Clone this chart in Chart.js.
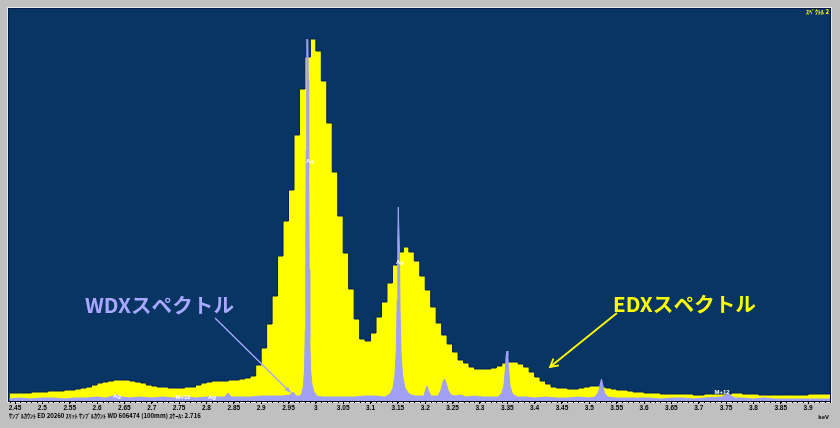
<!DOCTYPE html>
<html><head><meta charset="utf-8">
<script src="https://cdn.jsdelivr.net/npm/chart.js@4.4.1/dist/chart.umd.min.js"></script>
<style>html,body{margin:0;padding:0;background:#c0c0c0;overflow:hidden}canvas{display:block}</style>
</head><body><canvas id="c" width="840" height="428"></canvas>
<script>
// EDX histogram: 10 eV bins starting at 2.44 keV
const edxStartKeV = 2.44;
const edxBinKeV = 0.01;
const edxCounts = [
  8,8,8,8,9,9,9,10,10,10,11,11,12,
  13,14,16,18,19,20,21,21,21,20,19,18,
  16,15,14,14,13,13,13,14,14,16,18,19,20,20,20,21,21,22,23,25,
  36,53,77,105,145,180,211,266,312,344,362,350,320,278,229,
  185,148,112,82,62,60,68,84,99,118,
  136,149,154,149,140,125,111,94,78,66,57,49,41,38,34,32,
  32,32,33,35,38,39,39,37,34,29,24,20,17,14,
  13,13,12,12,13,14,15,15,14,13,12,11,11,10,9,9,8,8,8,
  7,7,7,7,7,7,6,6,7,7,7,7,7,8,8,7,7,7,6,6,6,6,6,6,6,6,6,7,7,7,7
];
// WDX spectrum
const wdxEnergy = [
  2.440,2.460,2.480,2.500,2.520,2.540,2.560,2.580,2.600,2.615,
  2.630,2.638,2.645,2.660,2.680,2.700,2.720,2.740,2.760,2.780,
  2.800,2.820,2.834,2.8394,2.845,2.860,2.880,2.900,2.920,2.940,
  2.952,2.9582,2.9637,
  2.9710,2.9747,2.9774,2.9793,2.9807,2.9816,2.9824,2.9831,2.9838,2.9853,
  2.9862,2.9869,2.9878,2.9889,2.9904,2.9930,2.9966,3.0021,3.0113,
  3.030,3.050,3.070,3.090,3.110,
  3.1264,3.1356,3.1411,3.1447,3.1471,3.1487,3.1498,3.1507,3.1516,3.1528,
  3.1539,3.1557,3.1584,3.1630,3.1703,3.1813,
  3.1977,3.2005,3.2032,3.2060,3.2105,
  3.2233,3.2288,3.2325,3.2352,3.2379,3.2416,3.2471,3.2544,
  3.265,3.275,3.290,3.305,3.320,
  3.3330,3.3403,3.3440,3.3464,3.3480,3.3495,3.3510,3.3528,3.3550,3.3596,3.3678,
  3.385,3.400,3.420,3.440,3.460,3.480,3.500,
  3.5104,3.5168,3.5201,3.5222,3.5246,3.5277,3.5341,
  3.550,3.570,3.590,3.610,3.630,3.650,3.670,3.690,3.710,
  3.7425,3.7498,3.7535,3.7590,3.7663,
  3.780,3.800,3.820,3.840,3.860,3.880,3.900,3.920,3.940
];
const wdxCounts = [
  2,3,2,3,3,2,3,3,4,3,
  5,6,4,3,4,3,4,3,4,3,
  4,4,4,8,4,4,4,5,5,5,
  6,9,5,
  5,8,16,31,71,151,251,341,362,361,
  321,231,131,61,31,16,9,5,4,
  4,4,4,5,5,
  4,7,13,26,51,101,161,194,194,151,
  91,49,26,13,7,5,
  5,11,15,10,5,
  5,11,19,22,18,11,6,5,
  6,4,5,4,4,
  4,8,16,31,46,50,45,29,15,7,4,
  4,3,4,3,3,4,3,
  4,9,17,22,16,8,4,
  3,3,3,3,2,3,3,2,3,
  4,6,8,5,3,
  3,2,3,2,2,2,2,2,2
];
const tickValues = [2.45,2.5,2.55,2.6,2.65,2.7,2.75,2.8,2.85,2.9,2.95,3,3.05,3.1,3.15,3.2,3.25,3.3,3.35,3.4,3.45,3.5,3.55,3.6,3.65,3.7,3.75,3.8,3.85,3.9];
const tickLabels = ['2.45','2.5','2.55','2.6','2.65','2.7','2.75','2.8','2.85','2.9','2.95','3','3.05','3.1','3.15','3.2','3.25','3.3','3.35','3.4','3.45','3.5','3.55','3.6','3.65','3.7','3.75','3.8','3.85','3.9'];
const peakMarkers = [
  {text:'Ag', e:2.9893, v:240},
  {text:'Ag', e:3.1539, v:139},
  {text:'Ag', e:2.6365, v:5},
  {text:'M+12', e:2.7571, v:4},
  {text:'Ag', e:2.8100, v:4},
  {text:'M+12', e:3.7425, v:9}
];
const infoText = 'ｻﾝﾌﾟﾙｶｳﾝﾄ ED 20260 ｽﾘｯﾄ ｻﾝﾌﾟﾙｶｳﾝﾄ WD 606474 (100mm) ｽｹｰﾙ: 2.716';

const edxPoints = edxCounts.map((c,i)=>({x: edxStartKeV + i*edxBinKeV, y: c}));
edxPoints.push({x: edxStartKeV + edxCounts.length*edxBinKeV, y: edxCounts[edxCounts.length-1]});
const wdxPoints = wdxEnergy.map((e,i)=>({x:e, y:wdxCounts[i]}));

const framePlugin = {
  id:'frame',
  beforeDraw(chart){
    const ctx = chart.ctx;
    ctx.save();
    ctx.fillStyle = '#c0c0c0';
    ctx.fillRect(0,0,840,428);
    ctx.fillStyle = '#083563';
    ctx.fillRect(8,8,823,394);
    ctx.strokeStyle = '#e6e6e6';
    ctx.lineWidth = 1;
    ctx.strokeRect(7.5,7.5,824,395);
    ctx.strokeStyle = '#001b46';
    ctx.strokeRect(8.5,8.5,822,393);
    ctx.restore();
  },
  afterDraw(chart){
    const ctx = chart.ctx;
    const xs = chart.scales.x, ys = chart.scales.y;
    const a = chart.chartArea;
    ctx.save();
    // minor ticks
    ctx.strokeStyle = '#000';
    ctx.lineWidth = 1;
    for (let k = 0; k <= 150; k++) {
      const px = Math.round(xs.getPixelForValue(2.44 + k*0.01)) + 0.5;
      ctx.beginPath(); ctx.moveTo(px, a.bottom); ctx.lineTo(px, a.bottom+2); ctx.stroke();
    }
    // peak markers
    ctx.fillStyle = '#ffffff';
    ctx.font = 'bold 6px "Liberation Sans"';
    ctx.textAlign = 'center';
    ctx.textBaseline = 'middle';
    peakMarkers.forEach(m=>{
      ctx.fillText(m.text, xs.getPixelForValue(m.e), ys.getPixelForValue(m.v));
    });
    // annotation texts
    function fitText(t, x, base, w, color){
      ctx.font = 'bold 20px "Noto Sans CJK JP"';
      ctx.textAlign = 'left';
      ctx.textBaseline = 'alphabetic';
      const mw = ctx.measureText(t).width;
      ctx.save();
      ctx.translate(x, base);
      ctx.scale(w/mw, 1);
      ctx.fillStyle = color;
      ctx.fillText(t, 0, 0);
      ctx.restore();
    }
    fitText('WDXスペクトル', 85, 313, 149, '#a8a8ff');
    fitText('EDXスペクトル', 613, 312, 143, '#ffff00');
    // WDX arrow
    ctx.strokeStyle = '#a8a8ff';
    ctx.fillStyle = '#a8a8ff';
    ctx.lineWidth = 1.3;
    ctx.beginPath(); ctx.moveTo(215,318); ctx.lineTo(290,392); ctx.stroke();
    {
      const ang = Math.atan2(392-318, 290-215);
      ctx.beginPath();
      ctx.moveTo(291,393);
      ctx.lineTo(291-7*Math.cos(ang-0.35), 393-7*Math.sin(ang-0.35));
      ctx.lineTo(291-7*Math.cos(ang+0.35), 393-7*Math.sin(ang+0.35));
      ctx.closePath(); ctx.fill();
    }
    // EDX arrow
    ctx.strokeStyle = '#ffff00';
    ctx.lineWidth = 1.8;
    ctx.beginPath(); ctx.moveTo(617,313); ctx.lineTo(550,367); ctx.stroke();
    {
      const ang = Math.atan2(367-313, 550-617);
      ctx.beginPath();
      ctx.moveTo(550-9*Math.cos(ang-0.5), 367-9*Math.sin(ang-0.5));
      ctx.lineTo(550,367);
      ctx.lineTo(550-9*Math.cos(ang+0.5), 367-9*Math.sin(ang+0.5));
      ctx.stroke();
    }
    // top-right tag
    ctx.fillStyle = '#ffff00';
    ctx.font = 'bold 6px "Noto Sans CJK JP"';
    ctx.textAlign = 'right';
    ctx.textBaseline = 'middle';
    ctx.fillText('ｽﾍﾟｸﾄﾙ 2', 829, 12);
    // bottom info
    ctx.fillStyle = '#000';
    ctx.textAlign = 'left';
    ctx.font = 'bold 6px "Noto Sans CJK JP"';
    ctx.fillText(infoText, 9, 416);
    ctx.textAlign = 'right';
    ctx.font = 'bold 6px "Liberation Sans"';
    ctx.fillText('keV', 829, 417);
    ctx.restore();
  }
};

new Chart(document.getElementById('c'), {
  type: 'line',
  data: {
    datasets: [
      { label:'WDX', data: wdxPoints, order: 0, borderColor:'#a0a0f6', backgroundColor:'#a0a0f6',
        borderWidth: 1, pointRadius: 0, fill: 'origin', tension: 0 },
      { label:'EDX', data: edxPoints, order: 1, stepped: 'before', borderColor:'#00215c', backgroundColor:'#ffff00',
        borderWidth: 1, pointRadius: 0, fill: 'origin' }
    ]
  },
  options: {
    responsive: false,
    animation: false,
    devicePixelRatio: 1,
    layout: { padding: { left: 9, right: 10, top: 9, bottom: 0 } },
    plugins: { legend: { display: false }, tooltip: { enabled: false } },
    scales: {
      x: {
        type: 'linear', min: 2.439, max: 3.94,
        afterBuildTicks(scale){ scale.ticks = tickValues.map(v=>({value:v})); },
        afterFit(scale){ scale.height = 27; },
        grid: { display: true, drawOnChartArea: false, drawTicks: true, tickLength: 3, color: '#000', lineWidth: 1 },
        border: { display: true, color: '#000', width: 1 },
        ticks: {
          autoSkip: false, maxRotation: 0, minRotation: 0, padding: 0,
          color: '#000', font: { family: 'Liberation Sans', size: 6.5, weight: 'bold' },
          callback: (v, i) => tickLabels[i]
        }
      },
      y: { display: false, min: 0, max: 392 }
    }
  },
  plugins: [framePlugin]
});
</script>
</body></html>
